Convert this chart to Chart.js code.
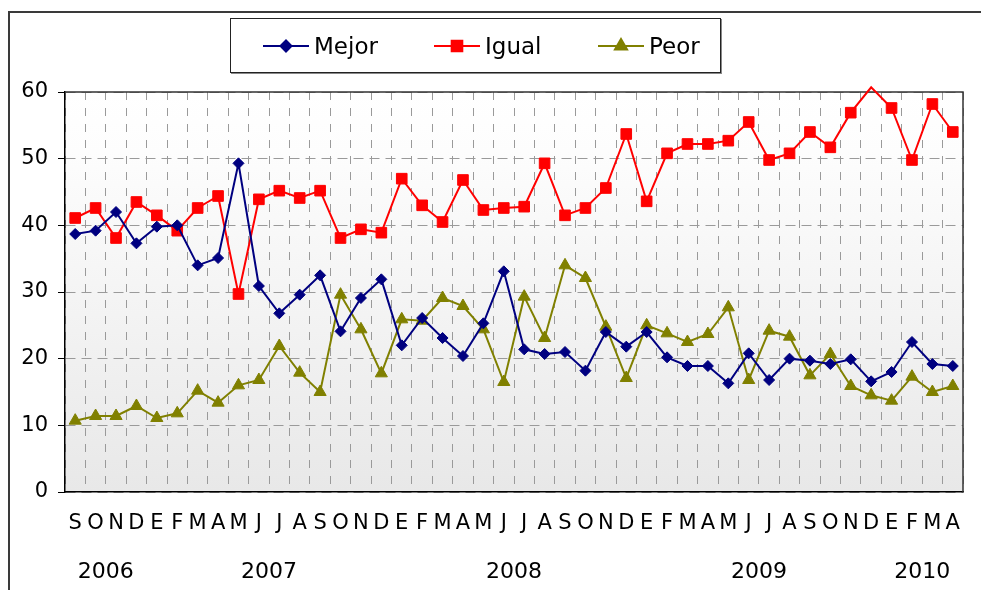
<!DOCTYPE html>
<html>
<head>
<meta charset="utf-8">
<script src="https://cdn.jsdelivr.net/npm/chart.js@4.4.1/dist/chart.umd.min.js"></script>
<style>
  body { margin: 0; background: #fff; font-family: "DejaVu Sans", Verdana, sans-serif; }
  #wrap { position: relative; width: 981px; height: 590px; overflow: hidden; }
  #frame { position: absolute; left: 8px; top: 11px; width: 1000px; height: 620px; border: 2px solid #3a3a3a; box-sizing: border-box; }
  #chart { position: absolute; left: 0; top: 0; }
  #legend { position: absolute; left: 230px; top: 18px; width: 491px; height: 55px; border: 1px solid #222;
            box-shadow: 1px 1px 0 #888; background: #fff; box-sizing: border-box; }
  .item { position: absolute; top: 0; height: 53px; display: flex; align-items: center; font-size: 23px; color: #000; }
  .item canvas { margin-right: 5px; }
</style>
</head>
<body>
<div id="wrap">
  <div id="frame"></div>
  <canvas id="chart" width="981" height="590"></canvas>
  <div id="legend"></div>
</div>
<script>
// months, Sep 2006 .. Apr 2010 (E = enero starts a new year)
var months = ['S','O','N','D',
  'E','F','M','A','M','J','J','A','S','O','N','D',
  'E','F','M','A','M','J','J','A','S','O','N','D',
  'E','F','M','A','M','J','J','A','S','O','N','D',
  'E','F','M','A'];
var years = ['2006', '2007', '2008', '2009', '2010'];

var mejor = [38.7, 39.2, 42.0, 37.3, 39.8, 40.0, 34.0, 35.1, 49.3, 30.9, 26.8, 29.6, 32.5, 24.1, 29.1, 31.9,
  22.0, 26.1, 23.1, 20.4, 25.3, 33.1, 21.4, 20.7, 21.0, 18.2, 24.0, 21.8,
  24.0, 20.2, 18.9, 18.9, 16.3, 20.8, 16.8, 20.0, 19.7, 19.2, 19.9, 16.6,
  18.0, 22.5, 19.2, 18.9];
var igual = [41.1, 42.6, 38.1, 43.5, 41.5, 39.2, 42.6, 44.4, 29.7, 43.9, 45.2, 44.1, 45.2, 38.1, 39.4, 38.9,
  47.0, 43.0, 40.5, 46.8, 42.3, 42.6, 42.8, 49.3, 41.5, 42.6, 45.6, 53.7,
  43.6, 50.8, 52.2, 52.2, 52.7, 55.5, 49.8, 50.8, 54.0, 51.7, 56.9, 60.7,
  57.6, 49.8, 58.2, 54.0];
var peor = [10.7, 11.4, 11.4, 12.9, 11.1, 11.8, 15.2, 13.4, 16.0, 16.8, 21.9, 17.9, 15.0, 29.6, 24.4, 17.8,
  25.9, 25.7, 29.1, 27.9, 24.4, 16.5, 29.3, 23.1, 34.0, 32.1, 24.8, 17.1,
  25.0, 23.8, 22.5, 23.7, 27.7, 16.8, 24.2, 23.3, 17.5, 20.7, 15.9, 14.5,
  13.7, 17.3, 15.0, 15.9];

var yMin = 0, yMax = 60, yStep = 10;

// centre of each year's run of months, in category units
var yearCenters = [];
(function () {
  var start = 0;
  for (var i = 1; i <= months.length; i++) {
    if (i === months.length || months[i] === 'E') {
      yearCenters.push((start + i - 1) / 2);
      start = i;
    }
  }
})();

var FONT = '"DejaVu Sans", Verdana, sans-serif';

function radiusFor(r) {
  return function (ctx) { return ctx.raw > yMax ? 0 : r; };
}

var plotDecor = {
  id: 'plotDecor',
  beforeDraw: function (chart) {
    var a = chart.chartArea, c = chart.ctx;
    var g = c.createLinearGradient(0, a.top, 0, a.bottom);
    g.addColorStop(0, '#ffffff');
    g.addColorStop(0.15, '#fdfdfd');
    g.addColorStop(1, '#e8e8e8');
    c.save();
    c.fillStyle = g;
    c.fillRect(a.left, a.top, a.right - a.left, a.bottom - a.top);
    c.restore();
  },
  beforeDatasetsDraw: function (chart) {
    var a = chart.chartArea, c = chart.ctx;
    c.save();
    c.strokeStyle = '#333';
    c.lineWidth = 1.5;
    c.setLineDash([]);
    c.beginPath();
    c.moveTo(a.left, a.top);
    c.lineTo(a.right, a.top);
    c.lineTo(a.right, a.bottom);
    c.stroke();
    c.restore();
  }
};

var chart = new Chart(document.getElementById('chart'), {
  type: 'line',
  data: {
    labels: months,
    datasets: [
      { label: 'Mejor', data: mejor, borderColor: '#000080', backgroundColor: '#000080',
        pointStyle: 'rectRot', pointRadius: radiusFor(5.5), pointBorderWidth: 1 },
      { label: 'Igual', data: igual, borderColor: '#ff0000', backgroundColor: '#ff0000',
        pointStyle: 'rect', pointRadius: radiusFor(7.5), pointBorderWidth: 1 },
      { label: 'Peor', data: peor, borderColor: '#808000', backgroundColor: '#808000',
        pointStyle: 'triangle', pointRadius: radiusFor(7), pointBorderWidth: 1 }
    ]
  },
  options: {
    responsive: false,
    animation: false,
    clip: false,
    elements: { line: { borderWidth: 2, tension: 0 } },
    layout: { padding: { left: 0, right: 18, top: 92, bottom: 0 } },
    plugins: { legend: { display: false }, tooltip: { enabled: false } },
    scales: {
      y: {
        min: yMin, max: yMax,
        ticks: { stepSize: yStep, color: '#000', padding: 10, font: { family: FONT, size: 21 } },
        grid: { color: '#9a9a9a', tickColor: '#000', tickLength: 7, tickBorderDash: [] },
        border: { color: '#000', width: 1.5, dash: [10, 6] },
        afterFit: function (s) { s.width = 65; }
      },
      x: {
        weight: 0,
        offset: true,
        ticks: { color: '#000', padding: 19, autoSkip: false, maxRotation: 0, font: { family: FONT, size: 21 } },
        grid: { offset: true, color: '#9a9a9a', drawTicks: false },
        border: { color: '#000', width: 1.5, dash: [8, 8] },
        afterFit: function (s) { s.height = 50; }
      },
      x2: {
        type: 'linear',
        position: 'bottom',
        weight: 1,
        min: -0.5, max: months.length - 0.5,
        bounds: 'data',
        afterBuildTicks: function (s) {
          s.ticks = yearCenters.map(function (v) { return { value: v }; });
        },
        ticks: {
          color: '#000', padding: 17, autoSkip: false, maxRotation: 0,
          font: { family: FONT, size: 22 },
          callback: function (v, i) { return years[i]; }
        },
        grid: { display: false, drawTicks: false },
        border: { display: false },
        afterFit: function (s) { s.height = 48; }
      }
    }
  },
  plugins: [plotDecor]
});

// legend: line + marker swatch, then the series name
var legendLeft = [32, 203, 367];
chart.data.datasets.forEach(function (ds, i) {
  var item = document.createElement('div');
  item.className = 'item';
  item.style.left = legendLeft[i] + 'px';
  var sw = document.createElement('canvas');
  sw.width = 46; sw.height = 20;
  var c = sw.getContext('2d');
  c.strokeStyle = ds.borderColor;
  c.lineWidth = 2;
  c.beginPath(); c.moveTo(0, 10); c.lineTo(46, 10); c.stroke();
  c.fillStyle = ds.backgroundColor;
  var r = [5.5, 7.5, 7][i];
  Chart.helpers.drawPoint(c, { pointStyle: ds.pointStyle, radius: r, rotation: 0, borderWidth: 1 }, 23, 10);
  item.appendChild(sw);
  var t = document.createElement('span');
  t.textContent = ds.label;
  item.appendChild(t);
  document.getElementById('legend').appendChild(item);
});
</script>
</body>
</html>
